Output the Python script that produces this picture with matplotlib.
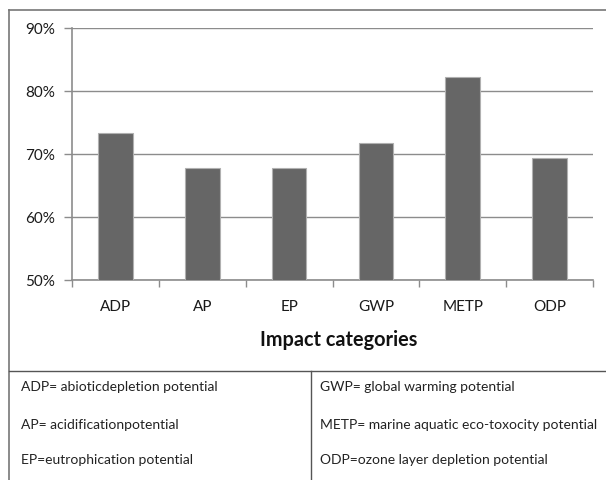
import matplotlib
matplotlib.use("Agg")
import matplotlib.pyplot as plt
from matplotlib.lines import Line2D

plt.rcParams['font.family'] = ['Lato', 'DejaVu Sans']

categories = ["ADP", "AP", "EP", "GWP", "METP", "ODP"]
values = [73.3, 67.8, 67.8, 71.7, 82.2, 69.3]
y_ticks = [50, 60, 70, 80, 90]
notes_left = ["ADP= abioticdepletion potential",
              "AP= acidificationpotential",
              "EP=eutrophication potential"]
notes_right = ["GWP= global warming potential",
               "METP= marine aquatic eco-toxocity potential",
               "ODP=ozone layer depletion potential"]

W, H = 606, 481
fig = plt.figure(figsize=(W / 100, H / 100), dpi=100)

def fx(px):
    return px / W

def fy(py):
    return 1 - py / H

ax = fig.add_axes([fx(72), fy(281), fx(593) - fx(72), fy(28.7) - fy(281)])
grey = "#8c8c8c"

x = [i + 0.5 for i in range(len(categories))]
ax.bar(x, values, width=0.4, bottom=0, color="#666666",
       edgecolor="#b0b0b0", linewidth=0.8, zorder=3)
ax.set_xlim(0, len(categories))
ax.set_ylim(50, 90)
ax.set_yticks(y_ticks)
ax.set_yticklabels([f"{v}%" for v in y_ticks], fontsize=11, color="#1a1a1a")
ax.yaxis.grid(True, color=grey, linewidth=1.0, zorder=0)
ax.set_xticks(range(len(categories) + 1))
ax.set_xticklabels([])
ax.set_xticks(x, minor=True)
ax.set_xticklabels(categories, minor=True, fontsize=11, color="#1a1a1a")
ax.tick_params(axis="x", which="minor", length=0, pad=14)
ax.tick_params(axis="x", which="major", length=5, color=grey, width=1)
ax.tick_params(axis="y", length=6, color=grey, width=1, pad=6)
for s in ["top", "right"]:
    ax.spines[s].set_visible(False)
for s in ["left", "bottom"]:
    ax.spines[s].set_color(grey)
    ax.spines[s].set_linewidth(1.2)

fig.text(fx(338.5), fy(340), "Impact categories", ha="center", va="center",
         fontsize=14.3, fontweight="bold", color="#111111")

# frame and notes table
lc = "#555555"
fig.add_artist(Line2D([fx(9), fx(606)], [fy(10.5), fy(10.5)], color="#777777", lw=1.2))
fig.add_artist(Line2D([fx(9), fx(9)], [fy(10.5), fy(481)], color="#777777", lw=1.2))
fig.add_artist(Line2D([fx(9), fx(606)], [fy(372), fy(372)], color=lc, lw=1.0))
fig.add_artist(Line2D([fx(310.5), fx(310.5)], [fy(372), fy(481)], color=lc, lw=1.0))

rows_y = [387, 425, 460]
for t, yy in zip(notes_left, rows_y):
    fig.text(fx(21), fy(yy), t, ha="left", va="center", fontsize=10, color="#222222")
for t, yy in zip(notes_right, rows_y):
    fig.text(fx(320.5), fy(yy), t, ha="left", va="center", fontsize=10, color="#222222")

fig.savefig("out.png", dpi=100)
